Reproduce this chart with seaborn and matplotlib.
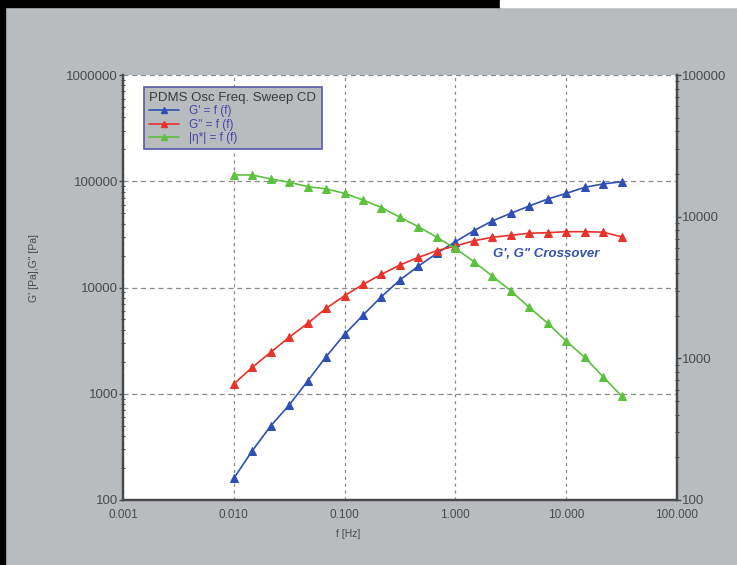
import matplotlib.pyplot as plt
import matplotlib.ticker as mticker
from matplotlib.lines import Line2D
from matplotlib.patches import Rectangle
import pandas as pd
import seaborn as sns

# frequency sweep, 6 points per decade from 0.01 Hz to 31.6 Hz
freq = [0.01, 0.0147, 0.0215, 0.0316, 0.0464, 0.0681, 0.1, 0.147, 0.215, 0.316, 0.464,
        0.681, 1.0, 1.47, 2.15, 3.16, 4.64, 6.81, 10.0, 14.7, 21.5, 31.6]
g_storage = [160, 291, 497, 783, 1318, 2234, 3622, 5510, 8200, 11780, 15900,
             21000, 27000, 34300, 42300, 49900, 58500, 68000, 76900, 87700, 94300, 99000]
g_loss = [1236, 1775, 2455, 3400, 4600, 6370, 8380, 10700, 13300, 16300, 19200,
          22200, 24600, 27500, 29700, 31000, 32400, 32800, 33500, 33500, 33200, 30000]
eta = [19700, 19700, 18450, 17500, 16300, 15700, 14600, 13100, 11600, 9900, 8490,
       7150, 5980, 4810, 3810, 3000, 2290, 1770, 1324, 1016, 741, 542]

series_labels = ["G' = f (f)", 'G" = f (f)', "|η*| = f (f)"]
legend_title = "PDMS Osc Freq. Sweep CD"

df = pd.DataFrame({"f": freq, "G1": g_storage, "G2": g_loss, "eta": eta})

sns.set_style("white")
plt.rcParams['font.family'] = ['Liberation Sans', 'DejaVu Sans']

bg = "#b9bcbf"
txt = "#4a4a4a"
blue = "#2f4fb5"
red = "#e8332b"
green = "#5cc23e"

fig = plt.figure(figsize=(7.37, 5.65), dpi=100, facecolor=bg)
ax = fig.add_axes([123/737, 1-500/565, (677-123)/737, (500-75)/565])
ax.set_facecolor("white")

# frame bits of the scanned page
fig.patches.append(Rectangle((0, 1-7/565), 500/737, 7/565, transform=fig.transFigure, color="black", zorder=0))
fig.patches.append(Rectangle((500/737, 1-7/565), 237/737, 7/565, transform=fig.transFigure, color="white", zorder=0))
fig.patches.append(Rectangle((0, 0), 5/737, 1, transform=fig.transFigure, color="black", zorder=0))

sns.lineplot(data=df, x="f", y="G1", ax=ax, color=blue, marker="^", markersize=5.5,
             markeredgecolor=blue, linewidth=1.2)
sns.lineplot(data=df, x="f", y="G2", ax=ax, color=red, marker="^", markersize=5.5,
             markeredgecolor=red, linewidth=1.2)

ax.set_xscale("log")
ax.set_yscale("log")
ax.set_xlim(0.001, 100)
ax.set_ylim(100, 1e6)

ax2 = ax.twinx()
sns.lineplot(data=df, x="f", y="eta", ax=ax2, color=green, marker="^", markersize=5.5,
             markeredgecolor=green, linewidth=1.2)
ax2.set_yscale("log")
ax2.set_ylim(100, 1e5)
ax2.set_xlim(0.001, 100)

# grid
ax.xaxis.grid(True, which="major", linestyle=(0, (2.5, 3)), color="#8a8a8a", linewidth=0.9)
ax.yaxis.grid(True, which="major", linestyle=(0, (4, 3)), color="#8a8a8a", linewidth=0.9)

ax.xaxis.set_major_formatter(mticker.FuncFormatter(lambda v, p: f"{v:.3f}"))
ax.xaxis.set_minor_formatter(mticker.NullFormatter())
intfmt = mticker.FuncFormatter(lambda v, p: f"{int(round(v))}")
ax.yaxis.set_major_formatter(intfmt)
ax2.yaxis.set_major_formatter(intfmt)
ax.yaxis.set_minor_formatter(mticker.NullFormatter())
ax2.yaxis.set_minor_formatter(mticker.NullFormatter())

for a in (ax, ax2):
    for s in a.spines.values():
        s.set_color("#4a4a4a")
        s.set_linewidth(1.6)
    a.spines["top"].set_visible(False)
    a.tick_params(which="major", direction="out", length=3, width=1, color="#4a4a4a",
                  labelsize=9.5, labelcolor=txt, pad=0.5)
    a.tick_params(which="minor", direction="inout", length=3, width=0.8, color="#4a4a4a")
ax.tick_params(axis="x", labelsize=8.5, pad=3.5)

ax.set_xlabel("f [Hz]", fontsize=7.5, color=txt)
ax.set_ylabel("G' [Pa],G\" [Pa]", fontsize=7.5, color=txt)
ax.xaxis.set_label_coords(0.406, -0.068)
ax.yaxis.set_label_coords(-0.152, 0.546)
ax2.set_ylabel("")

handles = [Line2D([], [], color=c, marker="^", markersize=5, linewidth=1.2) for c in (blue, red, green)]
leg = ax2.legend(handles, series_labels, title=legend_title, loc="upper left",
                 bbox_to_anchor=(144/737, 1-87/565), bbox_transform=fig.transFigure,
                 fontsize=8.5, title_fontsize=9.5, frameon=True, fancybox=False,
                 facecolor=bg, edgecolor="#5a5aa8", framealpha=1, alignment="left",
                 borderpad=0.45, labelspacing=0.1, handlelength=2.5, handletextpad=0.9,
                 borderaxespad=0)
leg.get_frame().set_linewidth(1.2)
leg.get_title().set_color("#3a3a3a")
for t in leg.get_texts():
    t.set_color("#4545a5")

ax2.text(0.764, 0.578, "G', G\" Crossover", transform=ax2.transAxes, ha="center", va="center",
         color="#3450b0", fontsize=9.5, fontweight="bold", style="italic")

fig.savefig("out.png", dpi=100, facecolor=bg)
